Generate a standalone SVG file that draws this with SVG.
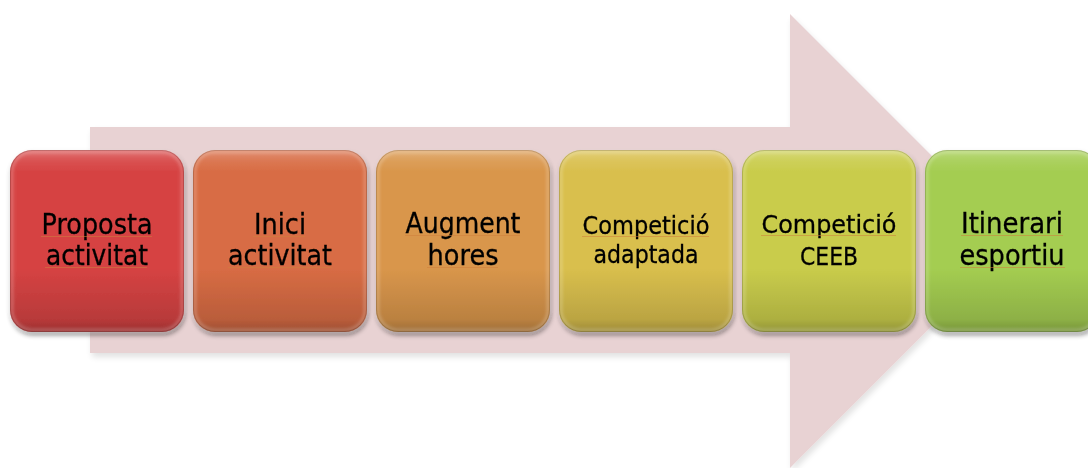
<svg xmlns="http://www.w3.org/2000/svg" width="1088" height="468" viewBox="0 0 1088 468">
  <style>
    .lbl { font-family: "DejaVu Sans", "Liberation Sans", sans-serif; fill: #000; stroke: #000; stroke-width: 0.3; text-anchor: middle; }
    .big { font-size: 28px; }
    .mid { font-size: 25px; }
    .sq { stroke: #d0803c; stroke-width: 1; opacity: 0.55; }
    .edge { fill: none; stroke: #000; stroke-opacity: 0.15; stroke-width: 1; }
    .rim { fill: none; stroke: #fff; stroke-opacity: 0.22; stroke-width: 3; }
    .gloss { fill: url(#gloss); }
  </style>
  <defs>
    <filter id="shadow" x="-10%" y="-10%" width="120%" height="125%">
      <feGaussianBlur in="SourceAlpha" stdDeviation="2.5"/>
      <feOffset dx="1" dy="3"/>
      <feComponentTransfer><feFuncA type="linear" slope="0.45"/></feComponentTransfer>
      <feMerge><feMergeNode/><feMergeNode in="SourceGraphic"/></feMerge>
    </filter>
    <filter id="ashadow" x="-5%" y="-5%" width="110%" height="115%">
      <feGaussianBlur in="SourceAlpha" stdDeviation="3"/>
      <feOffset dx="2" dy="4"/>
      <feComponentTransfer><feFuncA type="linear" slope="0.12"/></feComponentTransfer>
      <feMerge><feMergeNode/><feMergeNode in="SourceGraphic"/></feMerge>
    </filter>
    <filter id="soft"><feGaussianBlur stdDeviation="1.5"/></filter>
    <!-- bevel shading laid over the flat box colour -->
    <linearGradient id="gloss" x1="0" y1="0" x2="0" y2="1">
      <stop offset="0" stop-color="#fff" stop-opacity="0.25"/>
      <stop offset="0.06" stop-color="#fff" stop-opacity="0.08"/>
      <stop offset="0.12" stop-color="#fff" stop-opacity="0"/>
      <stop offset="0.65" stop-color="#000" stop-opacity="0"/>
      <stop offset="0.93" stop-color="#000" stop-opacity="0.14"/>
      <stop offset="1" stop-color="#000" stop-opacity="0.28"/>
    </linearGradient>
  </defs>

  <rect width="1088" height="468" fill="#fff"/>

  <!-- background block arrow -->
  <g id="flow-arrow" filter="url(#ashadow)">
    <polygon points="90,127 790,127 790,14 1017,241 790,468 790,353 90,353" fill="#e8d2d3"/>
  </g>

  <g id="connectors"></g>

  <g id="step1" filter="url(#shadow)">
    <rect x="10" y="150" width="174" height="182" rx="22" fill="#d64343"/>
    <rect x="10" y="150" width="174" height="182" rx="22" class="gloss"/>
    <rect x="12" y="152" width="170" height="178" rx="20" class="rim" filter="url(#soft)"/>
    <rect x="10.5" y="150.5" width="173" height="181" rx="22" class="edge"/>
    <text class="lbl big" x="97" y="234" textLength="111" lengthAdjust="spacingAndGlyphs">Proposta</text>
    <text class="lbl big" x="97" y="265" textLength="102" lengthAdjust="spacingAndGlyphs">activitat</text>
    <line class="sq" x1="41" y1="236.5" x2="152" y2="236.5"/>
    <line class="sq" x1="45" y1="267.5" x2="147" y2="267.5"/>
  </g>

  <g id="step2" filter="url(#shadow)">
    <rect x="193" y="150" width="174" height="182" rx="22" fill="#d86c44"/>
    <rect x="193" y="150" width="174" height="182" rx="22" class="gloss"/>
    <rect x="195" y="152" width="170" height="178" rx="20" class="rim" filter="url(#soft)"/>
    <rect x="193.5" y="150.5" width="173" height="181" rx="22" class="edge"/>
    <text class="lbl big" x="280" y="234" textLength="52" lengthAdjust="spacingAndGlyphs">Inici</text>
    <text class="lbl big" x="280" y="265" textLength="104" lengthAdjust="spacingAndGlyphs">activitat</text>
    <line class="sq" x1="253" y1="236.5" x2="305" y2="236.5"/>
    <line class="sq" x1="228" y1="267.5" x2="332" y2="267.5"/>
  </g>

  <g id="step3" filter="url(#shadow)">
    <rect x="376" y="150" width="174" height="182" rx="22" fill="#d9964b"/>
    <rect x="376" y="150" width="174" height="182" rx="22" class="gloss"/>
    <rect x="378" y="152" width="170" height="178" rx="20" class="rim" filter="url(#soft)"/>
    <rect x="376.5" y="150.5" width="173" height="181" rx="22" class="edge"/>
    <text class="lbl big" x="463" y="233" textLength="115" lengthAdjust="spacingAndGlyphs">Augment</text>
    <text class="lbl big" x="463" y="265" textLength="71" lengthAdjust="spacingAndGlyphs">hores</text>
    <line class="sq" x1="405" y1="235.5" x2="520" y2="235.5"/>
    <line class="sq" x1="427" y1="267.5" x2="498" y2="267.5"/>
  </g>

  <g id="step4" filter="url(#shadow)">
    <rect x="559" y="150" width="174" height="182" rx="22" fill="#d9bf4d"/>
    <rect x="559" y="150" width="174" height="182" rx="22" class="gloss"/>
    <rect x="561" y="152" width="170" height="178" rx="20" class="rim" filter="url(#soft)"/>
    <rect x="559.5" y="150.5" width="173" height="181" rx="22" class="edge"/>
    <text class="lbl mid" x="646" y="234" textLength="127" lengthAdjust="spacingAndGlyphs">Competició</text>
    <text class="lbl mid" x="646" y="263" textLength="105" lengthAdjust="spacingAndGlyphs">adaptada</text>
    <line class="sq" x1="582" y1="236.5" x2="709" y2="236.5"/>
  </g>

  <g id="step5" filter="url(#shadow)">
    <rect x="742" y="150" width="174" height="182" rx="22" fill="#c9cc4b"/>
    <rect x="742" y="150" width="174" height="182" rx="22" class="gloss"/>
    <rect x="744" y="152" width="170" height="178" rx="20" class="rim" filter="url(#soft)"/>
    <rect x="742.5" y="150.5" width="173" height="181" rx="22" class="edge"/>
    <text class="lbl mid" x="829" y="233" textLength="135" lengthAdjust="spacingAndGlyphs">Competició</text>
    <text class="lbl mid" x="829" y="265" textLength="58" lengthAdjust="spacingAndGlyphs">CEEB</text>
    <line class="sq" x1="761" y1="235.5" x2="896" y2="235.5"/>
  </g>

  <g id="step6" filter="url(#shadow)">
    <rect x="925" y="150" width="174" height="182" rx="22" fill="#a4cd51"/>
    <rect x="925" y="150" width="174" height="182" rx="22" class="gloss"/>
    <rect x="927" y="152" width="170" height="178" rx="20" class="rim" filter="url(#soft)"/>
    <rect x="925.5" y="150.5" width="173" height="181" rx="22" class="edge"/>
    <text class="lbl big" x="1012" y="233" textLength="102" lengthAdjust="spacingAndGlyphs">Itinerari</text>
    <text class="lbl big" x="1012" y="265" textLength="105" lengthAdjust="spacingAndGlyphs">esportiu</text>
    <line class="sq" x1="961" y1="235.5" x2="1063" y2="235.5"/>
    <line class="sq" x1="960" y1="267.5" x2="1065" y2="267.5"/>
  </g>
</svg>
